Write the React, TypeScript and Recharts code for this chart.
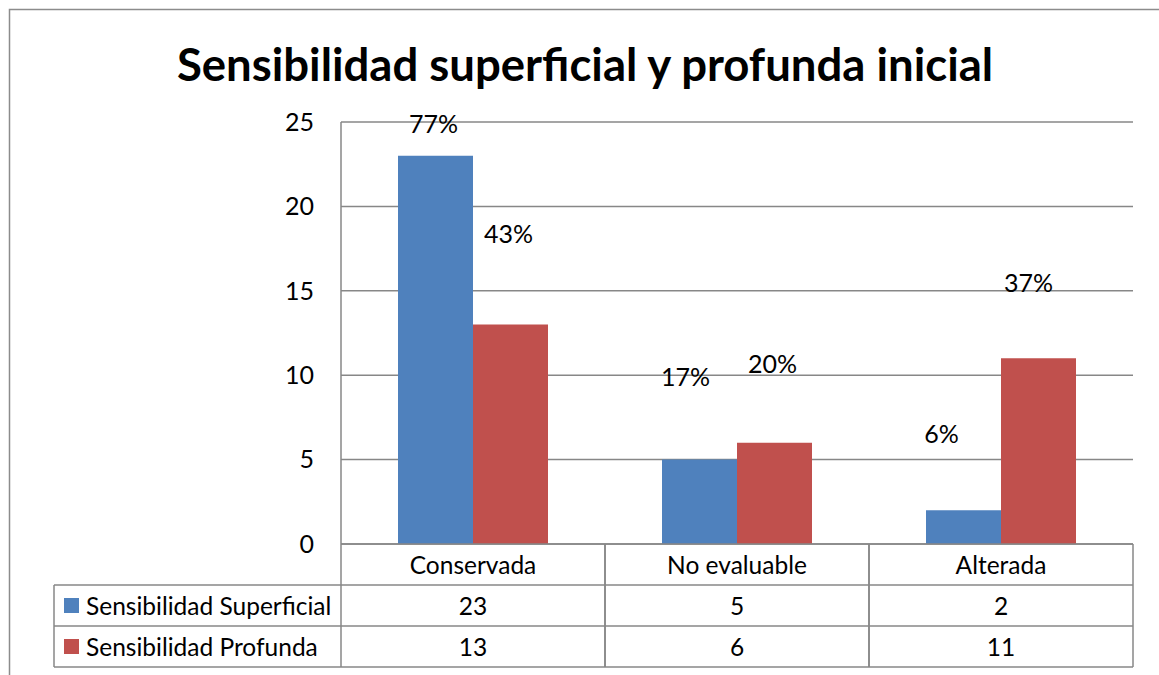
import { BarChart, Bar, XAxis, YAxis, CartesianGrid, LabelList } from 'recharts'

const CATEGORIES = ['Conservada', 'No evaluable', 'Alterada']
const SUPERFICIAL = [23, 5, 2]
const PROFUNDA = [13, 6, 11]
const SUPERFICIAL_PCT = ['77%', '17%', '6%']
const PROFUNDA_PCT = ['43%', '20%', '37%']
const Y_TICKS = [0, 5, 10, 15, 20, 25]

const SERIES = [
  { key: 'superficial', name: 'Sensibilidad Superficial', color: '#4F81BD', values: SUPERFICIAL, pct: SUPERFICIAL_PCT },
  { key: 'profunda', name: 'Sensibilidad Profunda', color: '#C0504D', values: PROFUNDA, pct: PROFUNDA_PCT },
]

// hand-placed label offsets from the top centre of each bar
const LABEL_NUDGE: Record<string, [number, number][]> = {
  superficial: [[-2, -33], [-14, -84], [-22, -77]],
  profunda: [[-2, -92], [-2, -80], [-10, -76]],
}

const FONT = 'Lato, "Open Sans", sans-serif'
const GRID = '#878787'
const ROW_H = 41
const LEGEND_COL = 287

const data = CATEGORIES.map((name, i) => ({
  name,
  superficial: SUPERFICIAL[i],
  profunda: PROFUNDA[i],
}))

function pctLabel(seriesKey: string, pct: string[]) {
  return (props: any) => {
    const { x, y, width, index } = props
    const [dx, dy] = LABEL_NUDGE[seriesKey][index]
    return (
      <text
        x={x + width / 2 + dx}
        y={y + dy}
        textAnchor="middle"
        dominantBaseline="central"
        fontFamily={FONT}
        fontSize={25}
        fill="#000"
      >
        {pct[index]}
      </text>
    )
  }
}

// each category tick draws its own column of the data table
function TableTick(props: any) {
  const { x, y, payload, index } = props
  const band = payload?.offset ? payload.offset * 2 : 264
  const left = x - band / 2
  const right = x + band / 2
  const rows = [payload.value, ...SERIES.map((s) => String(s.values[index]))]
  return (
    <g fontFamily={FONT} fontSize={24.5} fill="#000">
      <line x1={left} y1={y} x2={left} y2={y + ROW_H * 3} stroke={GRID} strokeWidth={1.5} />
      <line x1={right} y1={y} x2={right} y2={y + ROW_H * 3} stroke={GRID} strokeWidth={1.5} />
      {[1, 2, 3].map((r) => (
        <line key={r} x1={left} y1={y + ROW_H * r} x2={right} y2={y + ROW_H * r} stroke={GRID} strokeWidth={1.5} />
      ))}
      {rows.map((t, r) => (
        <text key={r} x={x} y={y + ROW_H * r + ROW_H / 2} textAnchor="middle" dominantBaseline="central">
          {t}
        </text>
      ))}
      {index === 0 && (
        <g>
          <line x1={left - LEGEND_COL} y1={y + ROW_H} x2={left - LEGEND_COL} y2={y + ROW_H * 3} stroke={GRID} strokeWidth={1.5} />
          {[1, 2, 3].map((r) => (
            <line key={r} x1={left - LEGEND_COL} y1={y + ROW_H * r} x2={left} y2={y + ROW_H * r} stroke={GRID} strokeWidth={1.5} />
          ))}
          {SERIES.map((s, r) => (
            <g key={s.key}>
              <rect x={left - LEGEND_COL + 10} y={y + ROW_H * (r + 1) + 13} width={15} height={15} fill={s.color} />
              <text x={left - LEGEND_COL + 32} y={y + ROW_H * (r + 1) + ROW_H / 2} dominantBaseline="central">
                {s.name}
              </text>
            </g>
          ))}
        </g>
      )}
    </g>
  )
}

export default function App() {
  return (
    <div style={{ position: 'absolute', left: 0, top: 0, width: 1159, height: 675, background: '#fff' }}>
      <svg width={1159} height={675} style={{ position: 'absolute', left: 0, top: 0 }}>
        <rect x={9.5} y={9.5} width={1200} height={700} fill="none" stroke="#8c8c8c" strokeWidth={1.5} />
        <text
          x={585}
          y={63}
          textAnchor="middle"
          dominantBaseline="central"
          fontFamily={FONT}
          fontWeight={700}
          fontSize={45.5}
          fill="#000"
        >
          Sensibilidad superficial y profunda inicial
        </text>
      </svg>
      <BarChart
        width={1159}
        height={675}
        data={data}
        margin={{ top: 122, right: 26, bottom: 101, left: 281 }}
        barCategoryGap={57}
        barGap={0}
        style={{ position: 'absolute', left: 0, top: 0 }}
      >
        <CartesianGrid vertical={false} stroke={GRID} strokeWidth={1.5} />
        <XAxis
          dataKey="name"
          height={30}
          axisLine={{ stroke: GRID, strokeWidth: 1.5 }}
          tickLine={false}
          tickSize={0}
          tickMargin={0}
          interval={0}
          tick={<TableTick />}
        />
        <YAxis
          width={60}
          domain={[0, 25]}
          ticks={Y_TICKS}
          axisLine={{ stroke: GRID, strokeWidth: 1.5 }}
          tickLine={false}
          tickSize={0}
          tickMargin={27}
          tick={{ fontFamily: FONT, fontSize: 25, fill: '#000' }}
        />
        {SERIES.map((s) => (
          <Bar key={s.key} dataKey={s.key} name={s.name} fill={s.color} isAnimationActive={false}>
            <LabelList dataKey={s.key} content={pctLabel(s.key, s.pct)} />
          </Bar>
        ))}
      </BarChart>
    </div>
  )
}
